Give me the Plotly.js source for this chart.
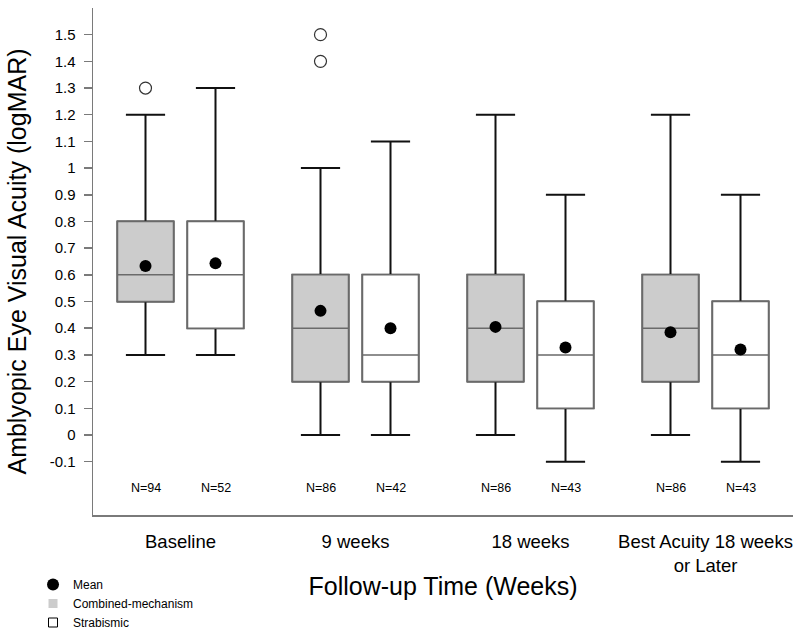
<!DOCTYPE html>
<html>
<head>
<meta charset="utf-8">
<script src="https://cdn.plot.ly/plotly-3.0.1.min.js"></script>
<style>html,body{margin:0;padding:0;background:#fff;}#chart{width:800px;height:633px;}</style>
</head>
<body>
<div id="chart"></div>
<script>
// Categories (follow-up times)
const categories = ["Baseline", "9 weeks", "18 weeks", "Best Acuity 18 weeks<br>or Later"];
const groupPos = [0, 1, 2, 3];

// Combined-mechanism box statistics
const combLower = [0.3, 0.0, 0.0, 0.0];
const combQ1 = [0.5, 0.2, 0.2, 0.2];
const combMedian = [0.6, 0.4, 0.4, 0.4];
const combQ3 = [0.8, 0.6, 0.6, 0.6];
const combUpper = [1.2, 1.0, 1.2, 1.2];
const combMean = [0.633, 0.465, 0.405, 0.385];
const combN = [94, 86, 86, 86];

// Strabismic box statistics
const strabLower = [0.3, 0.0, -0.1, -0.1];
const strabQ1 = [0.4, 0.2, 0.1, 0.1];
const strabMedian = [0.6, 0.3, 0.3, 0.3];
const strabQ3 = [0.8, 0.6, 0.5, 0.5];
const strabUpper = [1.3, 1.1, 0.9, 0.9];
const strabMean = [0.643, 0.40, 0.328, 0.32];
const strabN = [52, 42, 43, 43];

// Outliers (combined-mechanism)
const outlierGroup = [0, 1, 1];
const outlierValue = [1.3, 1.4, 1.5];

// Y tick labels
const yTickVals = [-0.1, 0, 0.1, 0.2, 0.3, 0.4, 0.5, 0.6, 0.7, 0.8, 0.9, 1, 1.1, 1.2, 1.3, 1.4, 1.5];
const yTickText = ["-0.1", "0", "0.1", "0.2", "0.3", "0.4", "0.5", "0.6", "0.7", "0.8", "0.9", "1", "1.1", "1.2", "1.3", "1.4", "1.5"];

const off = 0.2;
const combX = groupPos.map(g => g - off);
const strabX = groupPos.map(g => g + off);
const boxW = 0.32;
const FONT = "Liberation Sans, Arial, sans-serif";

function boxPair(x, lo, q1, med, q3, hi, fill) {
  return [
    { type: "box", x: x, lowerfence: lo, q1: q1, median: med, q3: q3, upperfence: hi,
      width: boxW, whiskerwidth: 0.7, boxpoints: false, fillcolor: fill,
      line: { color: "#111", width: 2 }, showlegend: false, hoverinfo: "skip" },
    { type: "box", x: x, lowerfence: q1, q1: q1, median: med, q3: q3, upperfence: q3,
      width: boxW, whiskerwidth: 0, boxpoints: false, fillcolor: fill,
      line: { color: "#6a6a6a", width: 1.5 }, showlegend: false, hoverinfo: "skip" }
  ];
}

const traces = [].concat(
  boxPair(combX, combLower, combQ1, combMedian, combQ3, combUpper, "#cccccc"),
  boxPair(strabX, strabLower, strabQ1, strabMedian, strabQ3, strabUpper, "#ffffff"),
  [
    { type: "scatter", mode: "markers", x: outlierGroup.map(g => g - off), y: outlierValue,
      marker: { symbol: "circle-open", size: 12, color: "#333", line: { width: 1.2 } },
      showlegend: false, hoverinfo: "skip" },
    { type: "scatter", mode: "markers", name: "Mean", x: combX.concat(strabX), y: combMean.concat(strabMean),
      marker: { symbol: "circle", size: 12, color: "#000" } },
    { type: "scatter", mode: "markers", name: "Combined-mechanism", x: [null], y: [null],
      marker: { symbol: "square", size: 9, color: "#cccccc", line: { width: 0 } } },
    { type: "scatter", mode: "markers", name: "Strabismic", x: [null], y: [null],
      marker: { symbol: "square", size: 9, color: "#ffffff", line: { color: "#000", width: 1 } } }
  ]
);

const annotations = [];
groupPos.forEach((g, i) => {
  annotations.push({ x: combX[i], y: -0.2, xref: "x", yref: "y", text: "N=" + combN[i], showarrow: false,
    font: { family: FONT, size: 12.5, color: "#000" } });
  annotations.push({ x: strabX[i], y: -0.2, xref: "x", yref: "y", text: "N=" + strabN[i], showarrow: false,
    font: { family: FONT, size: 12.5, color: "#000" } });
});

const layout = {
  width: 800, height: 633,
  margin: { l: 93, r: 7, t: 8, b: 118, autoexpand: false },
  paper_bgcolor: "#fff", plot_bgcolor: "#fff",
  font: { family: FONT, color: "#000" },
  showlegend: true,
  legend: { x: -0.0857, xanchor: "left", y: -0.1085, yanchor: "top", font: { family: FONT, size: 12, color: "#000" },
    tracegroupgap: 0, bgcolor: "rgba(0,0,0,0)" },
  xaxis: {
    range: [-0.5, 3.5], tickvals: groupPos, ticktext: categories,
    showgrid: false, zeroline: false, showline: true, linecolor: "#7a7a7a", linewidth: 1.5,
    ticks: "outside", ticklen: 9, tickcolor: "rgba(0,0,0,0)",
    tickfont: { family: FONT, size: 18.5, color: "#000" },
    title: { text: "Follow-up Time (Weeks)", font: { family: FONT, size: 25, color: "#000" }, standoff: 2 }
  },
  yaxis: {
    range: [-0.3, 1.6], tickvals: yTickVals, ticktext: yTickText,
    showgrid: false, zeroline: false, showline: true, linecolor: "#7a7a7a", linewidth: 1.5,
    ticks: "outside", ticklen: 8, tickcolor: "#7a7a7a", tickwidth: 1.5, ticklabelstandoff: 5,
    tickfont: { family: FONT, size: 15, color: "#000" },
    title: { text: "Amblyopic Eye Visual Acuity (logMAR)", font: { family: FONT, size: 25, color: "#000" }, standoff: 16 }
  },
  annotations: annotations
};

Plotly.newPlot("chart", traces, layout, { displayModeBar: false, staticPlot: true });
</script>
</body>
</html>
